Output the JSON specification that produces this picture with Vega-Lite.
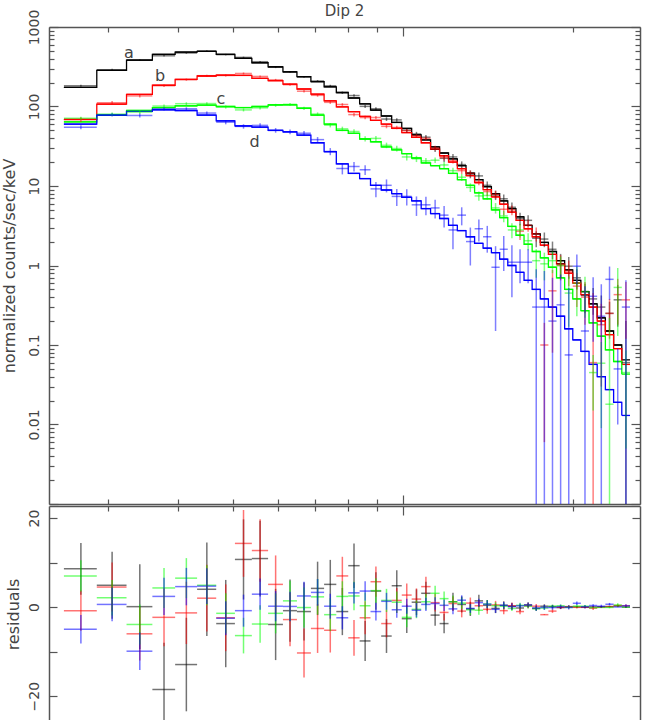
{
"$schema": "https://vega.github.io/schema/vega-lite/v6.json",
"background": "white",
"padding": {"left": 0, "top": 4, "right": 4, "bottom": 0},
"spacing": 0,
"config": {
 "view": {"stroke": null},
 "font": "DejaVu Sans",
 "legend": {"disable": true},
 "axis": {"grid": false, "domainColor": "#555", "domainWidth": 1.5, "tickColor": "#555", "tickWidth": 1.2, "labelFont": "DejaVu Sans", "labelColor": "#444", "labelFontSize": 14, "titleFont": "DejaVu Sans", "titleColor": "#444", "titleFontSize": 16, "titleFontWeight": "normal"},
 "axisX": {"minExtent": 0, "maxExtent": 0, "offset": 0},
 "axisRight": {"minExtent": 0, "maxExtent": 0}
},
"datasets": {
"lab": [{"t":"a","e":3.27,"v":471},{"t":"b","e":3.715,"v":242},{"t":"c","e":4.76,"v":124},{"t":"d","e":5.46,"v":35.7}],
"pts": [
{"s":"a","lo":2.51,"hi":2.87,"c":2.69,"m":174,"y":182.6,"yl":176.8,"yh":188.4,"r":8.6,"re":5.8},
{"s":"a","lo":2.87,"hi":3.24,"c":3.055,"m":285,"y":289.9,"yl":282.4,"yh":297.4,"r":4.9,"re":7.5},
{"s":"a","lo":3.24,"hi":3.6,"c":3.42,"m":383,"y":383.1,"yl":373.6,"yh":392.6,"r":0.1,"re":9.5},
{"s":"a","lo":3.6,"hi":3.95,"c":3.775,"m":453,"y":434.5,"yl":424,"yh":445,"r":-18.5,"re":10.5},
{"s":"a","lo":3.95,"hi":4.32,"c":4.135,"m":484,"y":471.1,"yl":460.6,"yh":481.6,"r":-12.9,"re":10.5},
{"s":"a","lo":4.32,"hi":4.67,"c":4.495,"m":494,"y":498,"yl":487.5,"yh":508.5,"r":4,"re":10.5},
{"s":"a","lo":4.67,"hi":5.04,"c":4.855,"m":453,"y":449.3,"yl":439.5,"yh":459.1,"r":-3.7,"re":9.8},
{"s":"a","lo":5.04,"hi":5.4,"c":5.22,"m":404,"y":414.7,"yl":405.7,"yh":423.7,"r":10.7,"re":9},
{"s":"a","lo":5.4,"hi":5.77,"c":5.585,"m":355,"y":365.9,"yl":357.4,"yh":374.4,"r":10.9,"re":8.5},
{"s":"a","lo":5.77,"hi":6.13,"c":5.95,"m":316,"y":312.1,"yl":304.1,"yh":320.1,"r":-3.9,"re":8},
{"s":"a","lo":6.13,"hi":6.49,"c":6.31,"m":273,"y":272.2,"yl":265.2,"yh":279.2,"r":-0.8,"re":7},
{"s":"a","lo":6.49,"hi":6.87,"c":6.68,"m":237,"y":236,"yl":229.5,"yh":242.5,"r":-1,"re":6.5},
{"s":"a","lo":6.87,"hi":7.25,"c":7.06,"m":205,"y":209.2,"yl":203.2,"yh":215.2,"r":4.2,"re":6},
{"s":"a","lo":7.25,"hi":7.62,"c":7.435,"m":177,"y":182.1,"yl":176.6,"yh":187.6,"r":5.1,"re":5.5},
{"s":"a","lo":7.62,"hi":8,"c":7.81,"m":150,"y":149,"yl":143.7,"yh":154.3,"r":-1,"re":5.3},
{"s":"a","lo":8,"hi":8.38,"c":8.19,"m":128,"y":137.3,"yl":132.3,"yh":142.3,"r":9.3,"re":5},
{"s":"a","lo":8.38,"hi":8.76,"c":8.57,"m":108,"y":100.4,"yl":95.9,"yh":104.9,"r":-7.6,"re":4.5},
{"s":"a","lo":8.76,"hi":9.15,"c":8.955,"m":90,"y":93.6,"yl":89.4,"yh":97.8,"r":3.6,"re":4.2},
{"s":"a","lo":9.15,"hi":9.55,"c":9.35,"m":76,"y":69.5,"yl":65.7,"yh":73.3,"r":-6.5,"re":3.8},
{"s":"a","lo":9.55,"hi":9.95,"c":9.75,"m":63,"y":67.8,"yl":64.3,"yh":71.3,"r":4.8,"re":3.5},
{"s":"a","lo":9.95,"hi":10.36,"c":10.155,"m":53,"y":50.4,"yl":47.2,"yh":53.6,"r":-2.6,"re":3.2},
{"s":"a","lo":10.36,"hi":10.77,"c":10.565,"m":44,"y":45.1,"yl":42.2,"yh":48,"r":1.1,"re":2.9},
{"s":"a","lo":10.77,"hi":11.19,"c":10.98,"m":38,"y":41.1,"yl":38.5,"yh":43.7,"r":3.1,"re":2.6},
{"s":"a","lo":11.19,"hi":11.61,"c":11.4,"m":31,"y":29.2,"yl":26.8,"yh":31.6,"r":-1.8,"re":2.4},
{"s":"a","lo":11.61,"hi":12.04,"c":11.825,"m":26,"y":22.3,"yl":20.1,"yh":24.5,"r":-3.7,"re":2.2},
{"s":"a","lo":12.04,"hi":12.48,"c":12.26,"m":22,"y":23.2,"yl":21.2,"yh":25.2,"r":1.2,"re":2},
{"s":"a","lo":12.48,"hi":12.93,"c":12.705,"m":18,"y":18.6,"yl":16.8,"yh":20.4,"r":0.6,"re":1.8},
{"s":"a","lo":12.93,"hi":13.39,"c":13.16,"m":14.5,"y":14.1,"yl":12.5,"yh":15.7,"r":-0.4,"re":1.6},
{"s":"a","lo":13.39,"hi":13.86,"c":13.625,"m":12,"y":13.4,"yl":12,"yh":14.8,"r":1.4,"re":1.4},
{"s":"a","lo":13.86,"hi":14.34,"c":14.1,"m":9.8,"y":10.2,"yl":9,"yh":11.4,"r":0.4,"re":1.2},
{"s":"a","lo":14.34,"hi":14.83,"c":14.585,"m":8,"y":7.7,"yl":6.65,"yh":8.75,"r":-0.3,"re":1.05},
{"s":"a","lo":14.83,"hi":15.33,"c":15.08,"m":6.5,"y":6.9,"yl":6,"yh":7.8,"r":0.4,"re":0.9},
{"s":"a","lo":15.33,"hi":15.85,"c":15.59,"m":5.2,"y":5.4,"yl":4.6,"yh":6.2,"r":0.2,"re":0.8},
{"s":"a","lo":15.85,"hi":16.38,"c":16.115,"m":4.1,"y":3.9,"yl":3.2,"yh":4.6,"r":-0.2,"re":0.7},
{"s":"a","lo":16.38,"hi":16.93,"c":16.655,"m":3.2,"y":3.7,"yl":3.1,"yh":4.3,"r":0.5,"re":0.6},
{"s":"a","lo":16.93,"hi":17.5,"c":17.215,"m":2.5,"y":2.2,"yl":1.7,"yh":2.7,"r":-0.3,"re":0.5},
{"s":"a","lo":17.5,"hi":18.09,"c":17.795,"m":1.95,"y":2.15,"yl":1.7,"yh":2.6,"r":0.2,"re":0.45},
{"s":"a","lo":18.09,"hi":18.7,"c":18.395,"m":1.5,"y":1.6,"yl":1.2,"yh":2,"r":0.1,"re":0.4},
{"s":"a","lo":18.7,"hi":19.33,"c":19.015,"m":1.15,"y":1.05,"yl":0.7,"yh":1.4,"r":-0.1,"re":0.35},
{"s":"a","lo":19.33,"hi":19.98,"c":19.655,"m":0.88,"y":0.98,"yl":0.68,"yh":1.28,"r":0.1,"re":0.3},
{"s":"a","lo":19.98,"hi":20.65,"c":20.315,"m":0.65,"y":0.7,"yl":0.5,"yh":0.9,"r":0.05,"re":0.2},
{"s":"a","lo":20.65,"hi":21.35,"c":21,"m":0.47,"y":0.42,"yl":0.25,"yh":0.59,"r":-0.05,"re":0.17},
{"s":"a","lo":21.35,"hi":22.07,"c":21.71,"m":0.33,"y":0.38,"yl":0.24,"yh":0.52,"r":0.05,"re":0.14},
{"s":"a","lo":22.07,"hi":22.82,"c":22.445,"m":0.22,"y":0.3,"yl":0.18,"yh":0.42,"r":0.08,"re":0.12},
{"s":"a","lo":22.82,"hi":23.6,"c":23.21,"m":0.15,"y":0.25,"yl":0.15,"yh":0.35,"r":0.1,"re":0.1},
{"s":"a","lo":23.6,"hi":24.4,"c":24,"m":0.1,"y":0.37,"yl":0.17,"yh":0.57,"r":0.27,"re":0.2},
{"s":"a","lo":24.4,"hi":25.23,"c":24.815,"m":0.065,"y":0.06,"yl":0.0003,"yh":0.2,"r":-0.005,"re":0.14},
{"s":"b","lo":2.51,"hi":2.87,"c":2.69,"m":69,"y":68.2,"yl":63.7,"yh":72.7,"r":-0.8,"re":4.5},
{"s":"b","lo":2.87,"hi":3.24,"c":3.055,"m":107,"y":111.5,"yl":106,"yh":117,"r":4.5,"re":5.5},
{"s":"b","lo":3.24,"hi":3.6,"c":3.42,"m":142,"y":136,"yl":130,"yh":142,"r":-6,"re":6},
{"s":"b","lo":3.6,"hi":3.95,"c":3.775,"m":185,"y":182.7,"yl":176.2,"yh":189.2,"r":-2.3,"re":6.5},
{"s":"b","lo":3.95,"hi":4.32,"c":4.135,"m":219,"y":217.7,"yl":210.7,"yh":224.7,"r":-1.3,"re":7},
{"s":"b","lo":4.32,"hi":4.67,"c":4.495,"m":242,"y":244,"yl":236.5,"yh":251.5,"r":2,"re":7.5},
{"s":"b","lo":4.67,"hi":5.04,"c":4.855,"m":248,"y":245.6,"yl":238.1,"yh":253.1,"r":-2.4,"re":7.5},
{"s":"b","lo":5.04,"hi":5.4,"c":5.22,"m":246,"y":260.3,"yl":252.8,"yh":267.8,"r":14.3,"re":7.5},
{"s":"b","lo":5.4,"hi":5.77,"c":5.585,"m":226,"y":238.7,"yl":231.7,"yh":245.7,"r":12.7,"re":7},
{"s":"b","lo":5.77,"hi":6.13,"c":5.95,"m":211,"y":216.1,"yl":209.6,"yh":222.6,"r":5.1,"re":6.5},
{"s":"b","lo":6.13,"hi":6.49,"c":6.31,"m":191,"y":188.2,"yl":182.2,"yh":194.2,"r":-2.8,"re":6},
{"s":"b","lo":6.49,"hi":6.87,"c":6.68,"m":166,"y":155.7,"yl":150.2,"yh":161.2,"r":-10.3,"re":5.5},
{"s":"b","lo":6.87,"hi":7.25,"c":7.06,"m":143,"y":138.2,"yl":132.7,"yh":143.7,"r":-4.8,"re":5.5},
{"s":"b","lo":7.25,"hi":7.62,"c":7.435,"m":118,"y":112.8,"yl":107.8,"yh":117.8,"r":-5.2,"re":5},
{"s":"b","lo":7.62,"hi":8,"c":7.81,"m":99,"y":106,"yl":101.7,"yh":110.3,"r":7,"re":4.3},
{"s":"b","lo":8,"hi":8.38,"c":8.19,"m":86,"y":79.1,"yl":75.1,"yh":83.1,"r":-6.9,"re":4},
{"s":"b","lo":8.38,"hi":8.76,"c":8.57,"m":75,"y":72.6,"yl":68.9,"yh":76.3,"r":-2.4,"re":3.7},
{"s":"b","lo":8.76,"hi":9.15,"c":8.955,"m":67,"y":72.7,"yl":69.3,"yh":76.1,"r":5.7,"re":3.4},
{"s":"b","lo":9.15,"hi":9.55,"c":9.35,"m":60,"y":56.3,"yl":53.2,"yh":59.4,"r":-3.7,"re":3.1},
{"s":"b","lo":9.55,"hi":9.95,"c":9.75,"m":53,"y":54.5,"yl":51.7,"yh":57.3,"r":1.5,"re":2.8},
{"s":"b","lo":9.95,"hi":10.36,"c":10.155,"m":47,"y":49.7,"yl":47.1,"yh":52.3,"r":2.7,"re":2.6},
{"s":"b","lo":10.36,"hi":10.77,"c":10.565,"m":41,"y":42.8,"yl":40.4,"yh":45.2,"r":1.8,"re":2.4},
{"s":"b","lo":10.77,"hi":11.19,"c":10.98,"m":35,"y":39.6,"yl":37.4,"yh":41.8,"r":4.6,"re":2.2},
{"s":"b","lo":11.19,"hi":11.61,"c":11.4,"m":29,"y":30,"yl":28,"yh":32,"r":1,"re":2},
{"s":"b","lo":11.61,"hi":12.04,"c":11.825,"m":24,"y":22.8,"yl":21,"yh":24.6,"r":-1.2,"re":1.8},
{"s":"b","lo":12.04,"hi":12.48,"c":12.26,"m":20,"y":20.8,"yl":19.2,"yh":22.4,"r":0.8,"re":1.6},
{"s":"b","lo":12.48,"hi":12.93,"c":12.705,"m":16.5,"y":15.6,"yl":14.2,"yh":17,"r":-0.9,"re":1.4},
{"s":"b","lo":12.93,"hi":13.39,"c":13.16,"m":13.5,"y":14.4,"yl":13.15,"yh":15.65,"r":0.9,"re":1.25},
{"s":"b","lo":13.39,"hi":13.86,"c":13.625,"m":11,"y":11.3,"yl":10.2,"yh":12.4,"r":0.3,"re":1.1},
{"s":"b","lo":13.86,"hi":14.34,"c":14.1,"m":9,"y":8.5,"yl":7.5,"yh":9.5,"r":-0.5,"re":1},
{"s":"b","lo":14.34,"hi":14.83,"c":14.585,"m":7.3,"y":7.8,"yl":6.9,"yh":8.7,"r":0.5,"re":0.9},
{"s":"b","lo":14.83,"hi":15.33,"c":15.08,"m":5.9,"y":5.1,"yl":4.3,"yh":5.9,"r":-0.8,"re":0.8},
{"s":"b","lo":15.33,"hi":15.85,"c":15.59,"m":4.7,"y":5,"yl":4.3,"yh":5.7,"r":0.3,"re":0.7},
{"s":"b","lo":15.85,"hi":16.38,"c":16.115,"m":3.7,"y":2.7,"yl":2.1,"yh":3.3,"r":-1,"re":0.6},
{"s":"b","lo":16.38,"hi":16.93,"c":16.655,"m":2.9,"y":3.2,"yl":2.65,"yh":3.75,"r":0.3,"re":0.55},
{"s":"b","lo":16.93,"hi":17.5,"c":17.215,"m":2.3,"y":2.5,"yl":2,"yh":3,"r":0.2,"re":0.5},
{"s":"b","lo":17.5,"hi":18.09,"c":17.795,"m":1.8,"y":0.1,"yl":0.006,"yh":0.19,"r":-1.7,"re":0.09},
{"s":"b","lo":18.09,"hi":18.7,"c":18.395,"m":1.38,"y":0.48,"yl":0.08,"yh":0.88,"r":-0.9,"re":0.4},
{"s":"b","lo":18.7,"hi":19.33,"c":19.015,"m":1.05,"y":1,"yl":0.65,"yh":1.35,"r":-0.05,"re":0.35},
{"s":"b","lo":19.33,"hi":19.98,"c":19.655,"m":0.8,"y":0.85,"yl":0.55,"yh":1.15,"r":0.05,"re":0.3},
{"s":"b","lo":19.98,"hi":20.65,"c":20.315,"m":0.6,"y":0.55,"yl":0.3,"yh":0.8,"r":-0.05,"re":0.25},
{"s":"b","lo":20.65,"hi":21.35,"c":21,"m":0.43,"y":0.4,"yl":0.18,"yh":0.62,"r":-0.03,"re":0.22},
{"s":"b","lo":21.35,"hi":22.07,"c":21.71,"m":0.3,"y":0.06,"yl":0.0003,"yh":0.45,"r":-0.24,"re":0.39},
{"s":"b","lo":22.07,"hi":22.82,"c":22.445,"m":0.2,"y":0.18,"yl":0.03,"yh":0.33,"r":-0.02,"re":0.15},
{"s":"b","lo":22.82,"hi":23.6,"c":23.21,"m":0.135,"y":0.25,"yl":0.12,"yh":0.38,"r":0.115,"re":0.13},
{"s":"b","lo":23.6,"hi":24.4,"c":24,"m":0.09,"y":0.43,"yl":0.18,"yh":0.68,"r":0.34,"re":0.25},
{"s":"b","lo":24.4,"hi":25.23,"c":24.815,"m":0.057,"y":0.37,"yl":0.12,"yh":0.62,"r":0.31,"re":0.25},
{"s":"c","lo":2.51,"hi":2.87,"c":2.69,"m":64,"y":71,"yl":67.5,"yh":74.5,"r":7,"re":3.5},
{"s":"c","lo":2.87,"hi":3.24,"c":3.055,"m":78,"y":80.1,"yl":76.1,"yh":84.1,"r":2.1,"re":4},
{"s":"c","lo":3.24,"hi":3.6,"c":3.42,"m":89,"y":85.1,"yl":80.6,"yh":89.6,"r":-3.9,"re":4.5},
{"s":"c","lo":3.6,"hi":3.95,"c":3.775,"m":97,"y":101.3,"yl":96.8,"yh":105.8,"r":4.3,"re":4.5},
{"s":"c","lo":3.95,"hi":4.32,"c":4.135,"m":102,"y":108.5,"yl":104,"yh":113,"r":6.5,"re":4.5},
{"s":"c","lo":4.32,"hi":4.67,"c":4.495,"m":104,"y":108.9,"yl":104.4,"yh":113.4,"r":4.9,"re":4.5},
{"s":"c","lo":4.67,"hi":5.04,"c":4.855,"m":100,"y":98.6,"yl":94.1,"yh":103.1,"r":-1.4,"re":4.5},
{"s":"c","lo":5.04,"hi":5.4,"c":5.22,"m":97,"y":90.6,"yl":86.6,"yh":94.6,"r":-6.4,"re":4},
{"s":"c","lo":5.4,"hi":5.77,"c":5.585,"m":100,"y":96.2,"yl":92,"yh":100.4,"r":-3.8,"re":4.2},
{"s":"c","lo":5.77,"hi":6.13,"c":5.95,"m":105,"y":103.6,"yl":99.1,"yh":108.1,"r":-1.4,"re":4.5},
{"s":"c","lo":6.13,"hi":6.49,"c":6.31,"m":105,"y":106.4,"yl":101.9,"yh":110.9,"r":1.4,"re":4.5},
{"s":"c","lo":6.49,"hi":6.87,"c":6.68,"m":95,"y":94.9,"yl":90.4,"yh":99.4,"r":-0.1,"re":4.5},
{"s":"c","lo":6.87,"hi":7.25,"c":7.06,"m":78,"y":80.3,"yl":76.3,"yh":84.3,"r":2.3,"re":4},
{"s":"c","lo":7.25,"hi":7.62,"c":7.435,"m":60,"y":58.3,"yl":54.6,"yh":62,"r":-1.7,"re":3.7},
{"s":"c","lo":7.62,"hi":8,"c":7.81,"m":50,"y":52.4,"yl":49,"yh":55.8,"r":2.4,"re":3.4},
{"s":"c","lo":8,"hi":8.38,"c":8.19,"m":46,"y":48.5,"yl":45.3,"yh":51.7,"r":2.5,"re":3.2},
{"s":"c","lo":8.38,"hi":8.76,"c":8.57,"m":39,"y":39.3,"yl":36.3,"yh":42.3,"r":0.3,"re":3},
{"s":"c","lo":8.76,"hi":9.15,"c":8.955,"m":36,"y":39.7,"yl":36.9,"yh":42.5,"r":3.7,"re":2.8},
{"s":"c","lo":9.15,"hi":9.55,"c":9.35,"m":31,"y":32.5,"yl":29.9,"yh":35.1,"r":1.5,"re":2.6},
{"s":"c","lo":9.55,"hi":9.95,"c":9.75,"m":28.5,"y":29.6,"yl":27.2,"yh":32,"r":1.1,"re":2.4},
{"s":"c","lo":9.95,"hi":10.36,"c":10.155,"m":25.5,"y":23.2,"yl":21,"yh":25.4,"r":-2.3,"re":2.2},
{"s":"c","lo":10.36,"hi":10.77,"c":10.565,"m":22.5,"y":22,"yl":20,"yh":24,"r":-0.5,"re":2},
{"s":"c","lo":10.77,"hi":11.19,"c":10.98,"m":19.5,"y":20.7,"yl":18.9,"yh":22.5,"r":1.2,"re":1.8},
{"s":"c","lo":11.19,"hi":11.61,"c":11.4,"m":18,"y":21.1,"yl":19.4,"yh":22.8,"r":3.1,"re":1.7},
{"s":"c","lo":11.61,"hi":12.04,"c":11.825,"m":16.5,"y":18.4,"yl":16.8,"yh":20,"r":1.9,"re":1.6},
{"s":"c","lo":12.04,"hi":12.48,"c":12.26,"m":14.4,"y":15.6,"yl":14.2,"yh":17,"r":1.2,"re":1.4},
{"s":"c","lo":12.48,"hi":12.93,"c":12.705,"m":12,"y":12.9,"yl":11.6,"yh":14.2,"r":0.9,"re":1.3},
{"s":"c","lo":12.93,"hi":13.39,"c":13.16,"m":10.2,"y":9.6,"yl":8.4,"yh":10.8,"r":-0.6,"re":1.2},
{"s":"c","lo":13.39,"hi":13.86,"c":13.625,"m":8.2,"y":7.5,"yl":6.5,"yh":8.5,"r":-0.7,"re":1},
{"s":"c","lo":13.86,"hi":14.34,"c":14.1,"m":6.9,"y":7.6,"yl":6.7,"yh":8.5,"r":0.7,"re":0.9},
{"s":"c","lo":14.34,"hi":14.83,"c":14.585,"m":5,"y":5.3,"yl":4.5,"yh":6.1,"r":0.3,"re":0.8},
{"s":"c","lo":14.83,"hi":15.33,"c":15.08,"m":4,"y":4.2,"yl":3.5,"yh":4.9,"r":0.2,"re":0.7},
{"s":"c","lo":15.33,"hi":15.85,"c":15.59,"m":3.1,"y":2.8,"yl":2.2,"yh":3.4,"r":-0.3,"re":0.6},
{"s":"c","lo":15.85,"hi":16.38,"c":16.115,"m":2.4,"y":2.8,"yl":2.25,"yh":3.35,"r":0.4,"re":0.55},
{"s":"c","lo":16.38,"hi":16.93,"c":16.655,"m":1.85,"y":2.05,"yl":1.55,"yh":2.55,"r":0.2,"re":0.5},
{"s":"c","lo":16.93,"hi":17.5,"c":17.215,"m":1.5,"y":1.15,"yl":0.7,"yh":1.6,"r":-0.35,"re":0.45},
{"s":"c","lo":17.5,"hi":18.09,"c":17.795,"m":1.25,"y":1.05,"yl":0.65,"yh":1.45,"r":-0.2,"re":0.4},
{"s":"c","lo":18.09,"hi":18.7,"c":18.395,"m":0.95,"y":1.15,"yl":0.8,"yh":1.5,"r":0.2,"re":0.35},
{"s":"c","lo":18.7,"hi":19.33,"c":19.015,"m":0.7,"y":1,"yl":0.7,"yh":1.3,"r":0.3,"re":0.3},
{"s":"c","lo":19.33,"hi":19.98,"c":19.655,"m":0.5,"y":0.45,"yl":0.17,"yh":0.73,"r":-0.05,"re":0.28},
{"s":"c","lo":19.98,"hi":20.65,"c":20.315,"m":0.38,"y":0.6,"yl":0.23,"yh":0.97,"r":0.22,"re":0.37},
{"s":"c","lo":20.65,"hi":21.35,"c":21,"m":0.27,"y":0.47,"yl":0.22,"yh":0.72,"r":0.2,"re":0.25},
{"s":"c","lo":21.35,"hi":22.07,"c":21.71,"m":0.19,"y":0.045,"yl":0.015,"yh":0.075,"r":-0.145,"re":0.03},
{"s":"c","lo":22.07,"hi":22.82,"c":22.445,"m":0.129,"y":0.059,"yl":0.009,"yh":0.109,"r":-0.07,"re":0.05},
{"s":"c","lo":22.82,"hi":23.6,"c":23.21,"m":0.087,"y":0.018,"yl":0.0003,"yh":0.218,"r":-0.069,"re":0.2},
{"s":"c","lo":23.6,"hi":24.4,"c":24,"m":0.062,"y":0.53,"yl":0.13,"yh":0.93,"r":0.47,"re":0.4},
{"s":"c","lo":24.4,"hi":25.23,"c":24.815,"m":0.043,"y":0.045,"yl":0.005,"yh":0.085,"r":0.002,"re":0.04},
{"s":"d","lo":2.51,"hi":2.87,"c":2.69,"m":60,"y":55,"yl":51.8,"yh":58.2,"r":-5,"re":3.2},
{"s":"d","lo":2.87,"hi":3.24,"c":3.055,"m":78,"y":78.6,"yl":74.8,"yh":82.4,"r":0.6,"re":3.8},
{"s":"d","lo":3.24,"hi":3.6,"c":3.42,"m":87,"y":77.1,"yl":72.9,"yh":81.3,"r":-9.9,"re":4.2},
{"s":"d","lo":3.6,"hi":3.95,"c":3.775,"m":91,"y":93.4,"yl":89.2,"yh":97.6,"r":2.4,"re":4.2},
{"s":"d","lo":3.95,"hi":4.32,"c":4.135,"m":89,"y":93.6,"yl":89.4,"yh":97.8,"r":4.6,"re":4.2},
{"s":"d","lo":4.32,"hi":4.67,"c":4.495,"m":78,"y":82.7,"yl":78.7,"yh":86.7,"r":4.7,"re":4},
{"s":"d","lo":4.67,"hi":5.04,"c":4.855,"m":66,"y":63.5,"yl":59.7,"yh":67.3,"r":-2.5,"re":3.8},
{"s":"d","lo":5.04,"hi":5.4,"c":5.22,"m":57,"y":56.2,"yl":52.6,"yh":59.8,"r":-0.8,"re":3.6},
{"s":"d","lo":5.4,"hi":5.77,"c":5.585,"m":55,"y":57.9,"yl":54.4,"yh":61.4,"r":2.9,"re":3.5},
{"s":"d","lo":5.77,"hi":6.13,"c":5.95,"m":50,"y":50.2,"yl":46.8,"yh":53.6,"r":0.2,"re":3.4},
{"s":"d","lo":6.13,"hi":6.49,"c":6.31,"m":48,"y":48.15,"yl":44.85,"yh":51.45,"r":0.15,"re":3.3},
{"s":"d","lo":6.49,"hi":6.87,"c":6.68,"m":43.6,"y":46.1,"yl":42.9,"yh":49.3,"r":2.5,"re":3.2},
{"s":"d","lo":6.87,"hi":7.25,"c":7.06,"m":35,"y":38.3,"yl":35.3,"yh":41.3,"r":3.3,"re":3},
{"s":"d","lo":7.25,"hi":7.62,"c":7.435,"m":27,"y":27.2,"yl":24.4,"yh":30,"r":0.2,"re":2.8},
{"s":"d","lo":7.62,"hi":8,"c":7.81,"m":19,"y":16.6,"yl":14,"yh":19.2,"r":-2.4,"re":2.6},
{"s":"d","lo":8,"hi":8.38,"c":8.19,"m":14.4,"y":17.6,"yl":15.2,"yh":20,"r":3.2,"re":2.4},
{"s":"d","lo":8.38,"hi":8.76,"c":8.57,"m":12.4,"y":16,"yl":13.8,"yh":18.2,"r":3.6,"re":2.2},
{"s":"d","lo":8.76,"hi":9.15,"c":8.955,"m":10.2,"y":9.2,"yl":7.2,"yh":11.2,"r":-1,"re":2},
{"s":"d","lo":9.15,"hi":9.55,"c":9.35,"m":8.9,"y":10.2,"yl":8.3,"yh":12.1,"r":1.3,"re":1.9},
{"s":"d","lo":9.55,"hi":9.95,"c":9.75,"m":8,"y":7.4,"yl":5.6,"yh":9.2,"r":-0.6,"re":1.8},
{"s":"d","lo":9.95,"hi":10.36,"c":10.155,"m":7.2,"y":7.4,"yl":5.7,"yh":9.1,"r":0.2,"re":1.7},
{"s":"d","lo":10.36,"hi":10.77,"c":10.565,"m":6.5,"y":5.8,"yl":4.2,"yh":7.4,"r":-0.7,"re":1.6},
{"s":"d","lo":10.77,"hi":11.19,"c":10.98,"m":5.2,"y":5.8,"yl":4.3,"yh":7.3,"r":0.6,"re":1.5},
{"s":"d","lo":11.19,"hi":11.61,"c":11.4,"m":4.5,"y":5.3,"yl":3.9,"yh":6.7,"r":0.8,"re":1.4},
{"s":"d","lo":11.61,"hi":12.04,"c":11.825,"m":3.9,"y":4.3,"yl":3,"yh":5.6,"r":0.4,"re":1.3},
{"s":"d","lo":12.04,"hi":12.48,"c":12.26,"m":3.2,"y":2.8,"yl":1.6,"yh":4,"r":-0.4,"re":1.2},
{"s":"d","lo":12.48,"hi":12.93,"c":12.705,"m":2.75,"y":4.3,"yl":3.2,"yh":5.4,"r":1.55,"re":1.1},
{"s":"d","lo":12.93,"hi":13.39,"c":13.16,"m":2.3,"y":2,"yl":1,"yh":3,"r":-0.3,"re":1},
{"s":"d","lo":13.39,"hi":13.86,"c":13.625,"m":1.9,"y":2.9,"yl":2,"yh":3.8,"r":1,"re":0.9},
{"s":"d","lo":13.86,"hi":14.34,"c":14.1,"m":1.65,"y":2.3,"yl":1.45,"yh":3.15,"r":0.65,"re":0.85},
{"s":"d","lo":14.34,"hi":14.83,"c":14.585,"m":1.45,"y":0.95,"yl":0.15,"yh":1.75,"r":-0.5,"re":0.8},
{"s":"d","lo":14.83,"hi":15.33,"c":15.08,"m":1.2,"y":1.6,"yl":0.85,"yh":2.35,"r":0.4,"re":0.75},
{"s":"d","lo":15.33,"hi":15.85,"c":15.59,"m":1,"y":1.1,"yl":0.4,"yh":1.8,"r":0.1,"re":0.7},
{"s":"d","lo":15.85,"hi":16.38,"c":16.115,"m":0.82,"y":1.1,"yl":0.6,"yh":1.6,"r":0.28,"re":0.5},
{"s":"d","lo":16.38,"hi":16.93,"c":16.655,"m":0.65,"y":1.1,"yl":0.6,"yh":1.6,"r":0.45,"re":0.5},
{"s":"d","lo":16.93,"hi":17.5,"c":17.215,"m":0.5,"y":0.3,"yl":0.0003,"yh":0.9,"r":-0.2,"re":0.6},
{"s":"d","lo":17.5,"hi":18.09,"c":17.795,"m":0.38,"y":0.3,"yl":0.0003,"yh":0.85,"r":-0.08,"re":0.55},
{"s":"d","lo":18.09,"hi":18.7,"c":18.395,"m":0.3,"y":0.2,"yl":0.0003,"yh":0.7,"r":-0.1,"re":0.5},
{"s":"d","lo":18.7,"hi":19.33,"c":19.015,"m":0.23,"y":0.32,"yl":0.0003,"yh":0.77,"r":0.09,"re":0.45},
{"s":"d","lo":19.33,"hi":19.98,"c":19.655,"m":0.16,"y":0.075,"yl":0.0003,"yh":0.52,"r":-0.085,"re":0.45},
{"s":"d","lo":19.98,"hi":20.65,"c":20.315,"m":0.116,"y":0.98,"yl":0.58,"yh":1.38,"r":0.86,"re":0.4},
{"s":"d","lo":20.65,"hi":21.35,"c":21,"m":0.083,"y":0.15,"yl":0.0003,"yh":0.55,"r":0.07,"re":0.4},
{"s":"d","lo":21.35,"hi":22.07,"c":21.71,"m":0.057,"y":0.41,"yl":0.11,"yh":0.71,"r":0.35,"re":0.3},
{"s":"d","lo":22.07,"hi":22.82,"c":22.445,"m":0.04,"y":0.23,"yl":0.0003,"yh":0.58,"r":0.19,"re":0.35},
{"s":"d","lo":22.82,"hi":23.6,"c":23.21,"m":0.0275,"y":0.67,"yl":0.37,"yh":0.97,"r":0.64,"re":0.3},
{"s":"d","lo":23.6,"hi":24.4,"c":24,"m":0.019,"y":0.05,"yl":0.01,"yh":0.09,"r":0.03,"re":0.04},
{"s":"d","lo":24.4,"hi":25.23,"c":24.815,"m":0.013,"y":0.3,"yl":0.0003,"yh":0.65,"r":0.29,"re":0.35}
]
},
"vconcat": [
{
 "width": 591, "height": 477,
 "title": {"text": "Dip 2", "fontSize": 15, "font": "DejaVu Sans", "fontWeight": "normal", "color": "#444", "offset": -10, "anchor": "middle", "frame": "group"},
 "data": {"name": "pts"},
 "resolve": {"axis": {"x": "independent", "y": "independent"}},
 "layer": [
  {"mark": {"type": "rule", "strokeWidth": 1.3},
   "encoding": {
    "x": {"field": "lo", "type": "quantitative", "scale": {"type": "log", "domain": [2.362, 26.28], "nice": false}, "axis": {"orient": "bottom", "values": [3,4,5,6,7,8,9,10,20], "labels": false, "title": null, "tickSize": {"condition": {"test": "datum.value == 10", "value": -9}, "value": -5}}},
    "x2": {"field": "hi"},
    "y": {"field": "m", "type": "quantitative", "scale": {"type": "log", "domain": [0.001, 1000], "nice": false}, "axis": {"orient": "left", "title": "normalized counts/sec/keV", "titlePadding": 6, "values": [0.001,0.002,0.003,0.004,0.005,0.006,0.007,0.008,0.009,0.01,0.02,0.03,0.04,0.05,0.06,0.07,0.08,0.09,0.1,0.2,0.3,0.4,0.5,0.6,0.7,0.8,0.9,1,2,3,4,5,6,7,8,9,10,20,30,40,50,60,70,80,90,100,200,300,400,500,600,700,800,900,1000], "format": "~g", "labelExpr": "indexof([0.01,0.1,1,10,100,1000], datum.value) >= 0 ? datum.label : ''", "labelOverlap": false, "labelAngle": 270, "labelAlign": "center", "labelBaseline": "alphabetic", "labelPadding": 20, "tickSize": {"condition": {"test": "indexof([0.001,0.01,0.1,1,10,100,1000], datum.value) >= 0", "value": -9}, "value": -5}}},
    "color": {"field": "s", "type": "nominal", "scale": {"domain": ["a","b","c","d"], "range": ["#000000","#ff0000","#00ff00","#0000ff"]}}
   }},
  {"mark": {"type": "line", "interpolate": "step-after", "strokeWidth": 1.3},
   "encoding": {
    "x": {"field": "lo", "type": "quantitative", "axis": {"orient": "top", "values": [3,4,5,6,7,8,9,10,20], "labels": false, "title": null, "tickSize": {"condition": {"test": "datum.value == 10", "value": -9}, "value": -5}}},
    "y": {"field": "m", "type": "quantitative", "axis": {"orient": "right", "title": null, "labels": false, "values": [0.001,0.002,0.003,0.004,0.005,0.006,0.007,0.008,0.009,0.01,0.02,0.03,0.04,0.05,0.06,0.07,0.08,0.09,0.1,0.2,0.3,0.4,0.5,0.6,0.7,0.8,0.9,1,2,3,4,5,6,7,8,9,10,20,30,40,50,60,70,80,90,100,200,300,400,500,600,700,800,900,1000], "tickSize": {"condition": {"test": "indexof([0.001,0.01,0.1,1,10,100,1000], datum.value) >= 0", "value": -9}, "value": -5}}},
    "color": {"field": "s", "type": "nominal"}
   }},
  {"mark": {"type": "rule", "strokeWidth": 1.5, "opacity": 0.5, "clip": true},
   "encoding": {
    "x": {"field": "lo", "type": "quantitative", "axis": null},
    "x2": {"field": "hi"},
    "y": {"field": "y", "type": "quantitative", "axis": null},
    "color": {"field": "s", "type": "nominal"}
   }},
  {"mark": {"type": "rule", "strokeWidth": 1.5, "opacity": 0.5, "clip": true},
   "encoding": {
    "x": {"field": "c", "type": "quantitative", "axis": null},
    "y": {"field": "yl", "type": "quantitative", "axis": null},
    "y2": {"field": "yh"},
    "color": {"field": "s", "type": "nominal"}
   }},
  {"data": {"name": "lab"},
   "mark": {"type": "text", "fontSize": 16, "font": "DejaVu Sans", "color": "#444", "align": "center", "baseline": "middle"},
   "encoding": {
    "x": {"field": "e", "type": "quantitative", "axis": null},
    "y": {"field": "v", "type": "quantitative", "axis": null},
    "text": {"field": "t"}
   }}
 ]
},
{
 "width": 591, "height": 216,
 "data": {"name": "pts"},
 "resolve": {"axis": {"x": "independent", "y": "independent"}},
 "layer": [
  {"mark": {"type": "rule", "strokeWidth": 1.5, "opacity": 0.55, "clip": true},
   "encoding": {
    "x": {"field": "lo", "type": "quantitative", "scale": {"type": "log", "domain": [2.362, 26.28], "nice": false}, "axis": {"orient": "top", "values": [3,4,5,6,7,8,9,10,20], "labels": false, "title": null, "tickSize": {"condition": {"test": "datum.value == 10", "value": -9}, "value": -5}}},
    "x2": {"field": "hi"},
    "y": {"field": "r", "type": "quantitative", "scale": {"domain": [-25.8, 22.7], "nice": false, "zero": false}, "axis": {"orient": "left", "title": "residuals", "titlePadding": 6, "values": [-20,-10,0,10,20], "labelExpr": "datum.value % 20 == 0 ? datum.label : ''", "labelAngle": 270, "labelAlign": "center", "labelBaseline": "alphabetic", "labelPadding": 19, "labelOverlap": false, "tickSize": -8}},
    "color": {"field": "s", "type": "nominal", "scale": {"domain": ["a","b","c","d"], "range": ["#000000","#ff0000","#00ff00","#0000ff"]}}
   }},
  {"mark": {"type": "errorbar", "clip": true, "thickness": 1.5, "rule": {"opacity": 0.55}},
   "encoding": {
    "x": {"field": "c", "type": "quantitative", "axis": null},
    "y": {"field": "r", "type": "quantitative", "axis": null},
    "yError": {"field": "re"},
    "color": {"field": "s", "type": "nominal"}
   }},
  {"mark": {"type": "rule", "opacity": 0, "clip": true},
   "encoding": {
    "x": {"field": "lo", "type": "quantitative", "axis": null},
    "x2": {"field": "hi"},
    "y": {"field": "r", "type": "quantitative", "axis": {"orient": "right", "title": null, "labels": false, "values": [-20,-10,0,10,20], "tickSize": -8}}
   }}
 ]
}
]
}
